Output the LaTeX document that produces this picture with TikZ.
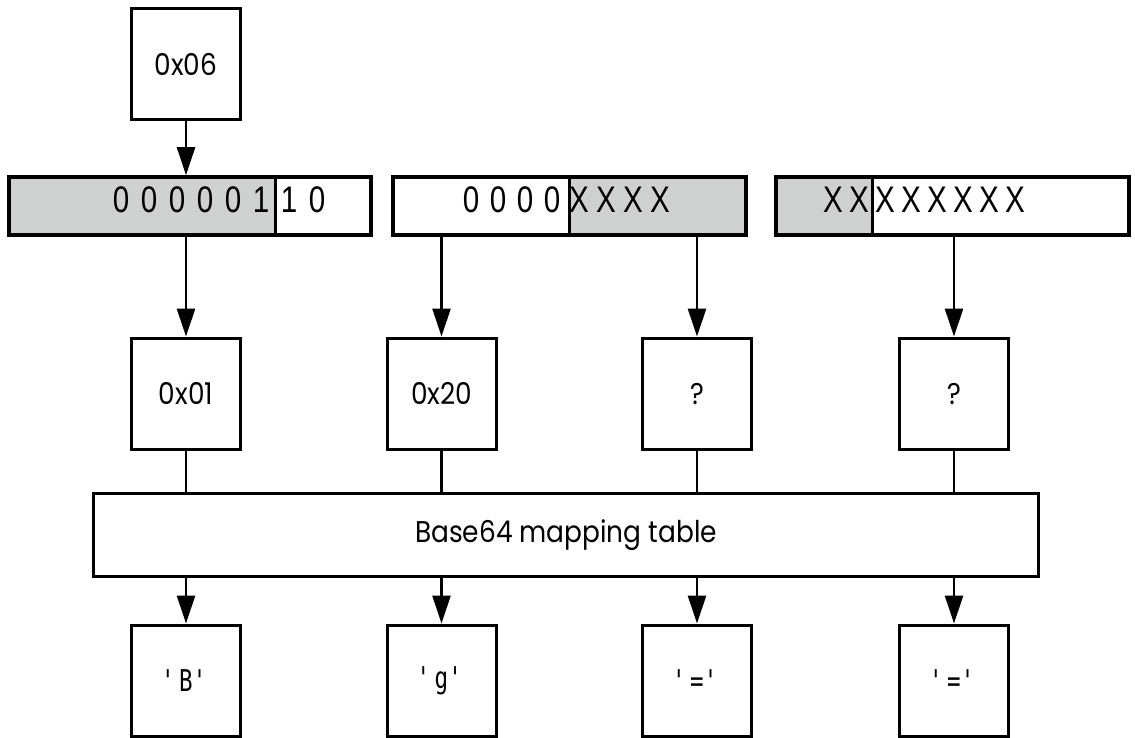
\documentclass[tikz,border=0pt]{standalone}
\usepackage{fontspec}
\setmainfont{Poppins}[FakeStretch=0.88]
\newfontfamily\codefont{DejaVu Sans Mono}[FakeStretch=0.75]
\newfontfamily\bitfont{Liberation Sans}[FakeStretch=0.8]
\usetikzlibrary{arrows.meta}
\definecolor{bitgray}{RGB}{206,209,208}

\begin{document}
\begin{tikzpicture}[x=1pt, y=-1pt,
        box/.style={draw, line width=3pt, minimum width=109pt, minimum height=111pt, inner sep=0pt, font=\fontsize{30}{36}\selectfont},
        byte/.style={draw, line width=3.6pt, minimum height=58pt, inner sep=0pt},
        bit/.style={anchor=base, inner sep=0pt, font=\bitfont\fontsize{37}{40}\selectfont},
        arr/.style={-{Triangle[length=28pt, width=18pt]}, line width=2.6pt},
        lnk/.style={line width=2.6pt}]
    \useasboundingbox (0, 0) rectangle (1135, 738);
    % input value
    \node[box] (src) at (186, 64) {0x06};
    % the three bytes
    \fill[bitgray] (9, 177) rectangle (275, 235);
    \fill[bitgray] (569, 177) rectangle (746, 235);
    \fill[bitgray] (776, 177) rectangle (872, 235);
    \node[byte, minimum width=362pt] (byteA) at (190, 206) {};
    \node[byte, minimum width=353pt] (byteB) at (569.5, 206) {};
    \node[byte, minimum width=353pt] (byteC) at (952.5, 206) {};
    \draw[line width=3pt] (275, 177) -- (275, 235);
    \draw[line width=3pt] (569, 177) -- (569, 235);
    \draw[line width=3pt] (872, 177) -- (872, 235);
    \foreach \b [count=\i] in {0,0,0,0,0,1,1,0}
        \node[bit] (bitA\i) at (121 + 28*\i - 28, 213) {\b};
    \foreach \b [count=\i] in {0,0,0,0,X,X,X,X}
        \node[bit] (bitB\i) at (471 + 27*\i - 27, 213) {\b};
    \foreach \b [count=\i] in {X,X,X,X,X,X,X,X}
        \node[bit] (bitC\i) at (833 + 26*\i - 26, 213) {\b};
    \draw[arr] (src) -- (src |- byteA.north);
    % 6-bit values
    \node[box] (valA) at (186, 393.5) {0x01};
    \node[box] (valB) at (441.5, 393.5) {0x20};
    \node[box] (valC) at (697, 393.5) {?};
    \node[box] (valD) at (954, 393.5) {?};
    \draw[arr] (byteA.south -| valA) -- (valA);
    \draw[arr] (byteB.south -| valB) -- (valB);
    \draw[arr] (byteB.south -| valC) -- (valC);
    \draw[arr] (byteC.south -| valD) -- (valD);
    % lookup
    \node[draw, line width=3.3pt, minimum width=945pt, minimum height=83pt, font=\fontsize{30}{36}\selectfont] (table) at (566, 535) {Base64 mapping table};
    % output characters
    \node[box, font=\codefont\fontsize{30}{34}\selectfont] (chA) at (186, 680.5) {\textquotesingle B\textquotesingle};
    \node[box, font=\codefont\fontsize{30}{34}\selectfont] (chB) at (441.5, 680.5) {\textquotesingle g\textquotesingle};
    \node[box, font=\codefont\fontsize{30}{34}\selectfont] (chC) at (697, 680.5) {\textquotesingle=\textquotesingle};
    \node[box, font=\codefont\fontsize{30}{34}\selectfont] (chD) at (954, 680.5) {\textquotesingle=\textquotesingle};
    \foreach \v/\c in {valA/chA, valB/chB, valC/chC, valD/chD} {
        \draw[lnk] (\v) -- (\v |- table.north);
        \draw[arr] (table.south -| \c) -- (\c);
    }
\end{tikzpicture}
\end{document}
